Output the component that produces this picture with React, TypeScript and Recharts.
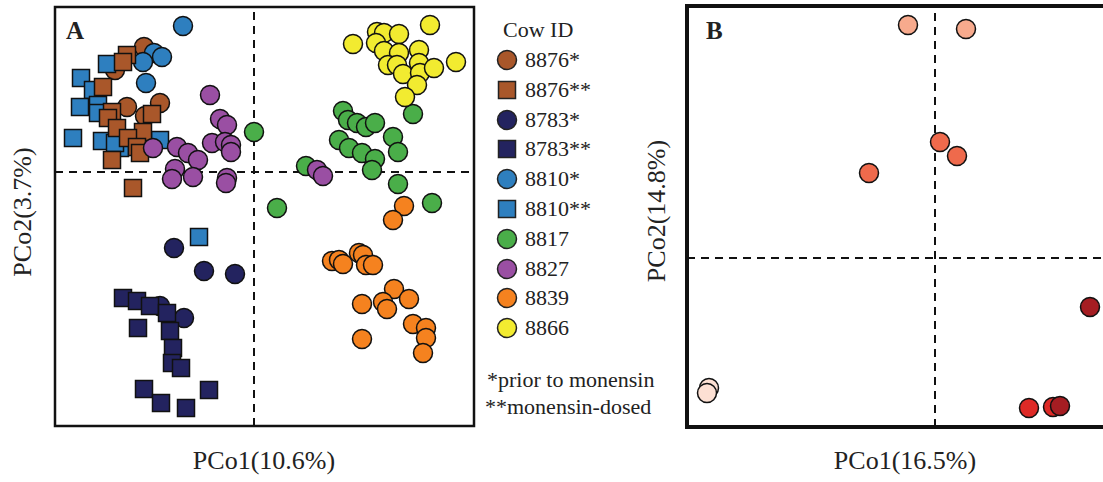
import React from "react";
import {
  ReferenceArea,
  ReferenceLine,
  Scatter,
  ScatterChart,
  XAxis,
  YAxis,
} from "recharts";

type Pt = { x: number; y: number };
const toPts = (arr: number[][]): Pt[] => arr.map(([x, y]) => ({ x, y }));

// Panel A: PCo scores (arbitrary units, origin at the dashed lines)
const cow8876a = [[-110, 125], [-139, 102], [-127, 65], [-94, 69], [-109, 56]];
const cow8810a = [[-71, 146], [-100, 119], [-92, 115], [-111, 110], [-108, 89]];
const cow8810b = [
  [-147, 108], [-173, 94], [-161, 82], [-174, 65], [-156, 67], [-156, 59],
  [-181, 34], [-152, 31], [-134, 24], [-94, 32], [-139, 29], [-55, -65],
];
const cow8876b = [
  [-127, 117], [-131, 110], [-151, 85], [-102, 58], [-142, 60], [-146, 54],
  [-137, 44], [-111, 40], [-126, 34], [-117, 25], [-114, 19], [-142, 12], [-121, -16],
];
const cow8783a = [[-80, -76], [-50, -99], [-19, -102], [-94, -134], [-70, -146]];
const cow8783b = [
  [-131, -126], [-117, -129], [-104, -134], [-87, -141], [-116, -156], [-84, -159],
  [-81, -176], [-82, -191], [-73, -196], [-110, -217], [-93, -231], [-68, -236], [-45, -218],
];
const cow8817 = [
  [0, 40], [52, 6], [89, 61], [94, 52], [103, 49], [112, 45], [121, 49], [85, 32],
  [95, 24], [108, 19], [121, 13], [118, 2], [139, 35], [144, 20], [159, 58],
  [144, -12], [178, -31], [23, -36],
];
const cow8827 = [
  [-44, 77], [-34, 53], [-27, 47], [-101, 24], [-77, 25], [-66, 19], [-56, 12],
  [-42, 29], [-29, 30], [-23, 27], [-23, 20], [-79, 3], [-82, -7], [-61, -5],
  [-27, -6], [-28, -11], [63, 2], [69, -4],
];
const cow8839 = [
  [150, -34], [139, -48], [78, -89], [85, -88], [89, -92], [105, -81], [109, -83],
  [112, -93], [119, -93], [140, -117], [155, -127], [129, -130], [108, -132],
  [133, -137], [159, -152], [172, -156], [172, -166], [169, -181], [108, -167],
];
const cow8866 = [
  [176, 147], [99, 128], [123, 140], [130, 139], [145, 138], [122, 129], [130, 121],
  [145, 119], [165, 122], [165, 109], [134, 107], [143, 107], [149, 98], [166, 99],
  [180, 104], [202, 110], [163, 87], [151, 75],
];

const cowIds = ["8876*", "8876**", "8783*", "8783**", "8810*", "8810**", "8817", "8827", "8839", "8866"];
const cowColors = ["#a9572a", "#a9572a", "#23235f", "#23235f", "#2e7fbf", "#2e7fbf", "#4aae49", "#9a4fa3", "#f5821f", "#f2eb30"];
const cowShapes = ["circle", "square", "circle", "square", "circle", "square", "circle", "circle", "circle", "circle"];
const cowData = [cow8876a, cow8876b, cow8783a, cow8783b, cow8810a, cow8810b, cow8817, cow8827, cow8839, cow8866];
// drawing order (later on top)
const drawOrderA = [0, 4, 5, 1, 2, 3, 6, 7, 8, 9];

// Panel B
const groupBData = [
  [[-226, -130], [-228, -135]],
  [[-27, 233], [31, 229]],
  [[5, 116], [22, 102], [-66, 85]],
  [[94, -150], [118, -149]],
  [[125, -148], [155, -49]],
];
const groupBColors = ["#fde0d3", "#f7aa8d", "#ef6a4c", "#de2a26", "#a51d22"];

const serif = "'Liberation Serif', 'Times New Roman', serif";
const dash = "8 6";

const makeShape = (kind: string, color: string) => (p: any) => {
  if (p.cx == null || p.cy == null) return <g />;
  return kind === "square" ? (
    <rect x={p.cx - 8.5} y={p.cy - 8.5} width={17} height={17} fill={color} stroke="#111" strokeWidth={1.5} />
  ) : (
    <circle cx={p.cx} cy={p.cy} r={9.5} fill={color} stroke="#111" strokeWidth={1.5} />
  );
};

function Panel({
  left, top, size, xDomain, yDomain, frameWidth, children,
}: {
  left: number; top: number; size: number; xDomain: [number, number]; yDomain: [number, number];
  frameWidth: number; children: React.ReactNode;
}) {
  const m = 4;
  return (
    <div style={{ position: "absolute", left: left - m, top: top - m }}>
      <ScatterChart width={size + 2 * m} height={size + 2 * m} margin={{ top: m, right: m, bottom: m, left: m }}>
        <XAxis type="number" dataKey="x" domain={xDomain} allowDataOverflow hide />
        <YAxis type="number" dataKey="y" domain={yDomain} allowDataOverflow hide />
        {children}
        <ReferenceLine x={0} stroke="#111" strokeWidth={2} strokeDasharray={dash} />
        <ReferenceLine y={0} stroke="#111" strokeWidth={2} strokeDasharray={dash} />
        <ReferenceArea
          x1={xDomain[0]} x2={xDomain[1]} y1={yDomain[0]} y2={yDomain[1]}
          fill="none" fillOpacity={0} stroke="#111" strokeWidth={frameWidth}
        />
      </ScatterChart>
    </div>
  );
}

function LegendMark({ color, shape }: { color: string; shape: string }) {
  return (
    <svg width={22} height={22} style={{ display: "block" }}>
      {shape === "circle" ? (
        <circle cx={11} cy={11} r={9.5} fill={color} stroke="#222" strokeWidth={1.5} />
      ) : (
        <rect x={2.5} y={2.5} width={17} height={17} fill={color} stroke="#222" strokeWidth={1.5} />
      )}
    </svg>
  );
}

export default function App() {
  const text = (s: React.CSSProperties): React.CSSProperties => ({
    position: "absolute", fontFamily: serif, color: "#222", whiteSpace: "nowrap", lineHeight: 1, ...s,
  });
  return (
    <div style={{ position: "absolute", left: 0, top: 0, width: 1103, height: 482, overflow: "hidden", background: "#fff" }}>
      <Panel left={55} top={7} size={419} xDomain={[-199, 220]} yDomain={[-254, 165]} frameWidth={2.5}>
        {drawOrderA.map((i) => (
          <Scatter
            key={cowIds[i]}
            name={cowIds[i]}
            data={toPts(cowData[i])}
            shape={makeShape(cowShapes[i], cowColors[i])}
            fill={cowColors[i]}
            isAnimationActive={false}
          />
        ))}
      </Panel>
      <Panel left={687} top={6} size={421} xDomain={[-248, 173]} yDomain={[-169, 252]} frameWidth={4}>
        {groupBData.map((d, i) => (
          <Scatter
            key={i}
            data={toPts(d)}
            shape={makeShape("circle", groupBColors[i])}
            fill={groupBColors[i]}
            isAnimationActive={false}
          />
        ))}
      </Panel>

      <div style={text({ left: 66, top: 18, fontSize: 25, fontWeight: "bold" })}>A</div>
      <div style={text({ left: 706, top: 18, fontSize: 25, fontWeight: "bold" })}>B</div>

      <div style={text({ left: 264, top: 461, fontSize: 26, transform: "translate(-50%, -50%)" })}>PCo1(10.6%)</div>
      <div style={text({ left: 905, top: 461, fontSize: 26, transform: "translate(-50%, -50%)" })}>PCo1(16.5%)</div>
      <div style={text({ left: 23, top: 212, fontSize: 26, transform: "translate(-50%, -50%) rotate(-90deg)" })}>PCo2(3.7%)</div>
      <div style={text({ left: 657, top: 211, fontSize: 26, transform: "translate(-50%, -50%) rotate(-90deg)" })}>PCo2(14.8%)</div>

      <div style={text({ left: 503, top: 30, fontSize: 22, transform: "translateY(-50%)" })}>Cow ID</div>
      {cowIds.map((id, i) => (
        <div key={id} style={{ position: "absolute", left: 496, top: 60 + i * 29.8, transform: "translateY(-50%)", display: "flex", alignItems: "center" }}>
          <LegendMark color={cowColors[i]} shape={cowShapes[i]} />
          <span style={{ fontFamily: serif, fontSize: 22, color: "#222", marginLeft: 7, lineHeight: 1 }}>{id}</span>
        </div>
      ))}
      <div style={text({ left: 487, top: 380, fontSize: 22, transform: "translateY(-50%)" })}>*prior to monensin</div>
      <div style={text({ left: 485, top: 407, fontSize: 22, transform: "translateY(-50%)" })}>**monensin-dosed</div>
    </div>
  );
}
